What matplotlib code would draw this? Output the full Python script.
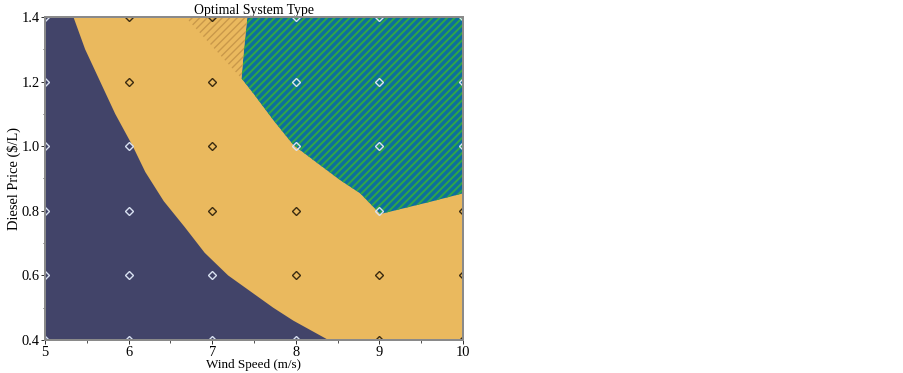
import matplotlib
matplotlib.use("Agg")
import matplotlib.pyplot as plt
from matplotlib.ticker import MultipleLocator, FormatStrFormatter

# ---- data ----
wind_speed = [5, 6, 7, 8, 9, 10]
diesel_price = [0.4, 0.6, 0.8, 1.0, 1.2, 1.4]

# optimal system type at each sensitivity point (rows: diesel price, cols: wind speed)
# N = navy region, O = orange region, T = teal region
system_type = [
    ["N", "N", "N", "N", "O", "O"],  # 0.4
    ["N", "N", "N", "O", "O", "O"],  # 0.6
    ["N", "N", "O", "O", "T", "O"],  # 0.8
    ["N", "N", "O", "T", "T", "T"],  # 1.0
    ["N", "O", "O", "T", "T", "T"],  # 1.2
    ["N", "O", "O", "T", "T", "T"],  # 1.4
]

# boundary between navy and orange regions
navy_bound_price = [1.40, 1.30, 1.20, 1.10, 1.00, 0.92, 0.83, 0.75, 0.67, 0.60, 0.50, 0.46, 0.40]
navy_bound_wind = [5.34, 5.48, 5.66, 5.84, 6.05, 6.20, 6.42, 6.67, 6.91, 7.19, 7.73, 7.97, 8.39]

# boundary between orange and teal regions
teal_bound_wind = [7.42, 7.38, 7.35, 7.49, 7.73, 7.97, 8.21, 8.53, 8.77, 9.01, 9.61, 10.0]
teal_bound_price = [1.40, 1.30, 1.21, 1.164, 1.081, 1.004, 0.957, 0.895, 0.854, 0.790, 0.828, 0.854]

# hatched orange area
hatch_wind = [6.68, 7.42, 7.38, 7.35]
hatch_price = [1.40, 1.40, 1.30, 1.21]

# ---- styling ----
NAVY = "#424469"
ORANGE = "#EAB95E"
TEAL_BASE = "#0C6F9C"
TEAL_HATCH = "#2EA54A"
ORANGE_HATCH = "#C9984A"
LIGHT_MK = "#D9E2F2"
DARK_MK = "#3A2A10"

DPI = 90
plt.rcParams["font.family"] = ["Liberation Serif", "DejaVu Serif"]

fig = plt.figure(figsize=(903 / DPI, 373 / DPI), dpi=DPI)
ax = fig.add_axes([45 / 903, 33 / 373, 418 / 903, 323 / 373])
ax.set_xlim(wind_speed[0], wind_speed[-1])
ax.set_ylim(diesel_price[0], diesel_price[-1])
ax.set_facecolor(ORANGE)

# navy region
nx = [wind_speed[0], wind_speed[0]] + navy_bound_wind
ny = [diesel_price[0], diesel_price[-1]] + navy_bound_price
ax.fill(nx, ny, facecolor=NAVY, edgecolor="none", lw=0, zorder=1)

# teal hatched region
tx = teal_bound_wind + [wind_speed[-1]]
ty = teal_bound_price + [diesel_price[-1]]
with plt.rc_context({"hatch.linewidth": 1.6}):
    ax.fill(tx, ty, facecolor=TEAL_BASE, edgecolor=TEAL_HATCH, lw=0,
            hatch="////", zorder=1)

# hatched orange region
with plt.rc_context({"hatch.linewidth": 1.1}):
    ax.fill(hatch_wind, hatch_price, facecolor=ORANGE, edgecolor=ORANGE_HATCH,
            lw=0, hatch="////", zorder=1)

# sensitivity points
for i, p in enumerate(diesel_price):
    for j, w in enumerate(wind_speed):
        c = DARK_MK if system_type[i][j] == "O" else LIGHT_MK
        ax.plot([w], [p], marker="D", ms=4.5, mfc="none", mec=c, mew=1.1,
                ls="none", zorder=3, clip_on=True)

# axes styling
for s in ax.spines.values():
    s.set_color("#8a8a8a")
    s.set_linewidth(1.6)
    s.set_zorder(4)

ax.xaxis.set_major_locator(MultipleLocator(1))
ax.xaxis.set_minor_locator(MultipleLocator(0.5))
ax.yaxis.set_major_locator(MultipleLocator(0.2))
ax.yaxis.set_minor_locator(MultipleLocator(0.1))
ax.yaxis.set_major_formatter(FormatStrFormatter("%.1f"))
ax.tick_params(which="major", direction="out", length=3.5, width=0.8,
               color="#333333", labelsize=11.5, pad=1)
ax.tick_params(which="minor", direction="out", length=2, width=0.8,
               color="#555555")

ax.set_title("Optimal System Type", fontsize=11, pad=2)
ax.set_xlabel("Wind Speed (m/s)", fontsize=10.5, labelpad=0)
ax.set_ylabel("Diesel Price ($/L)", fontsize=11.5, labelpad=0)

fig.savefig("out.png", dpi=DPI)
